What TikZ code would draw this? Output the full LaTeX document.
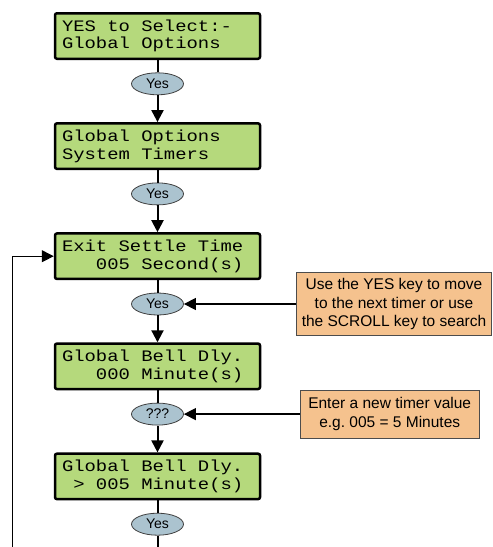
\documentclass[tikz,border=0pt]{standalone}
\usepackage{fontspec}
\usepackage{tikz}
\usetikzlibrary{arrows.meta,positioning,shapes.geometric}
\newfontfamily\lcdfont[FakeStretch=1.18]{Liberation Mono}
\newfontfamily\notefont{Liberation Sans}
\definecolor{lcdgreen}{HTML}{B5D97C}
\definecolor{noteorange}{HTML}{F5C28E}
\definecolor{keyblue}{HTML}{ABC3CF}

\begin{document}
\begin{tikzpicture}[
    on grid,
    node distance=47.8pt,
    lcd/.style={rectangle, rounded corners=2pt, draw=black, line width=2.5pt, fill=lcdgreen, text width=191pt, inner xsep=7pt, inner ysep=0pt, minimum height=45.5pt, font=\lcdfont\fontsize{16}{17.7}\selectfont, execute at begin node={\spaceskip=11.33pt\xspaceskip=11.33pt\relax}},
    key/.style={ellipse, draw=black!75, line width=0.8pt, fill=keyblue, minimum width=52pt, minimum height=22pt, inner sep=0pt, font=\notefont\fontsize{14}{16}\selectfont},
    note/.style={rectangle, draw=black!70, line width=0.8pt, fill=noteorange, align=center, inner sep=2pt, font=\notefont\fontsize{15.5}{18.3}\selectfont},
    flow/.style={line width=2pt},
    arrow/.style={-{Triangle[length=12pt,width=12pt]}, line width=2pt},
    hint/.style={-{Triangle[length=12pt,width=12pt]}, line width=1.3pt},
    back/.style={-{Triangle[length=12pt,width=12pt]}, line width=1pt}
  ]
    \useasboundingbox (0,0) rectangle (493pt,-547pt);
    \node[lcd] (selglobal) at (157.5pt,-36pt) {YES to Select:-\\Global Options};
    \node[key, below=of selglobal] (yes1) {Yes};
    \node[lcd, below=62.3pt of yes1] (timers) {Global Options\\System Timers};
    \node[key, below=of timers] (yes2) {Yes};
    \node[lcd, below=62.3pt of yes2] (exitsettle) {Exit Settle Time\\\phantom{000}005 Second(s)};
    \node[key, below=of exitsettle] (yes3) {Yes};
    \node[lcd, below=62.3pt of yes3] (bellold) {Global Bell Dly.\\\phantom{000}000 Minute(s)};
    \node[key, below=of bellold] (qqq) {???};
    \node[lcd, below=62.3pt of qqq] (bellnew) {Global Bell Dly.\\\phantom{0}> 005 Minute(s)};
    \node[key, below=of bellnew] (yes5) {Yes};
    \node[note, minimum width=195pt, minimum height=63pt, right=236.5pt of yes3] (scrollnote) {Use the YES key to move\\to the next timer or use\\the SCROLL key to search};
    \node[note, minimum width=179pt, minimum height=48pt, right=232.2pt of qqq] (valuenote) {Enter a new timer value\\e.g.\ 005 = 5 Minutes};
    \coordinate (backstart) at (12pt,-547pt);
    \coordinate (exitdown) at (yes5 |- backstart);
    \draw[flow] (selglobal) -- (yes1);
    \draw[arrow] (yes1) -- (timers);
    \draw[flow] (timers) -- (yes2);
    \draw[arrow] (yes2) -- (exitsettle);
    \draw[flow] (exitsettle) -- (yes3);
    \draw[arrow] (yes3) -- (bellold);
    \draw[flow] (bellold) -- (qqq);
    \draw[arrow] (qqq) -- (bellnew);
    \draw[flow] (bellnew) -- (yes5);
    \draw[flow] (yes5) -- (exitdown);
    \draw[hint] (scrollnote) -- (yes3);
    \draw[hint] (valuenote) -- (qqq);
    \draw[back] (backstart) |- (exitsettle.west);
  \end{tikzpicture}
\end{document}
